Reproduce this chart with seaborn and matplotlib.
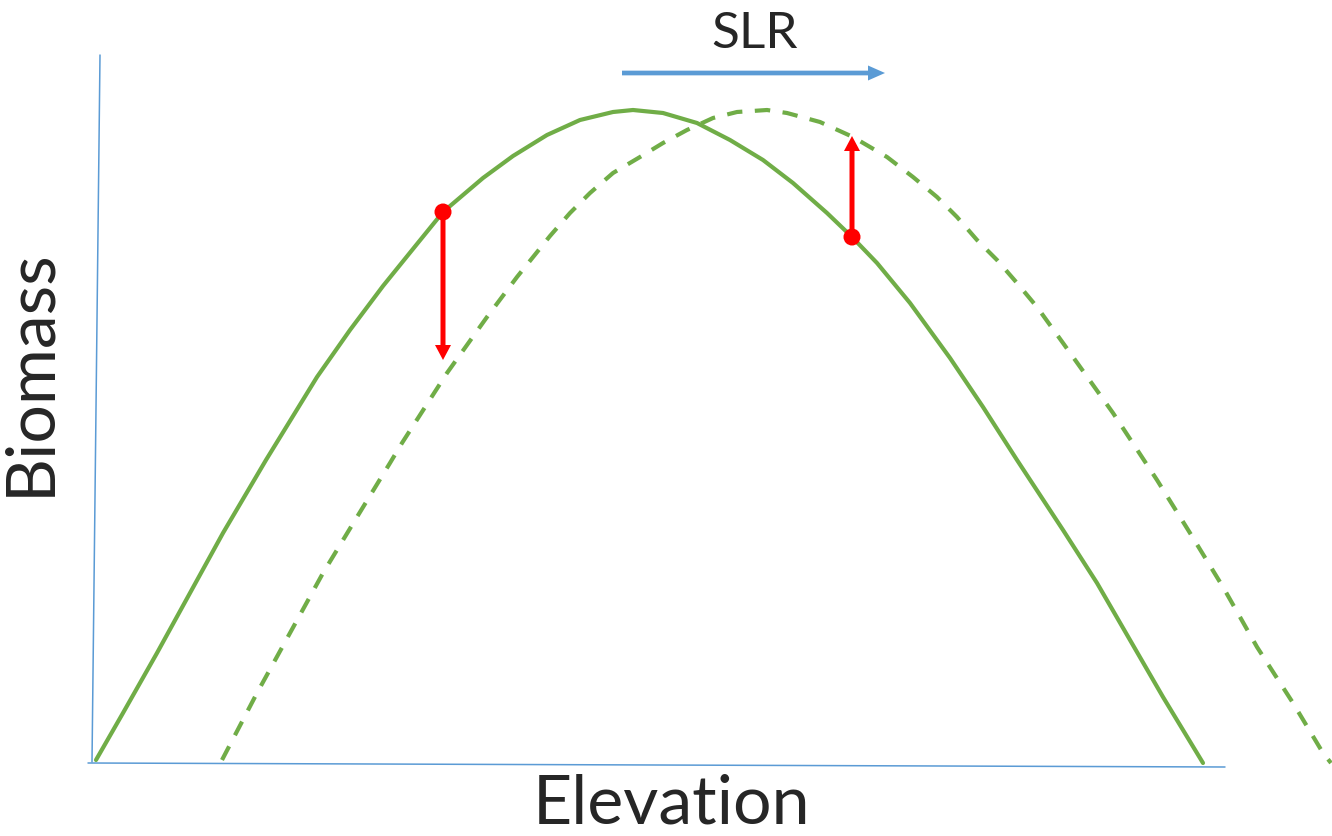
import numpy as np
import pandas as pd
import matplotlib
matplotlib.use("Agg")
import matplotlib.pyplot as plt
import seaborn as sns

# Values (elevation / biomass, arbitrary units)
current_elev = [6, 33, 67, 100, 133, 176, 227, 260, 293, 327, 353, 393, 423, 457,
                490, 523, 543, 573, 607, 640, 673, 703, 737, 762, 787, 820, 860,
                893, 927, 973, 1007, 1040, 1073, 1113]
current_bio = [3, 50, 110, 170, 230, 303, 386, 433, 477, 519, 551, 585, 607, 628,
               643, 651, 653, 650, 640, 623, 603, 580, 550, 526, 500, 460, 405,
               356, 303, 233, 180, 123, 66, 0]

future_elev = [132, 167, 200, 233, 267, 300, 312, 357, 397, 427, 460, 480, 500, 523,
               550, 573, 597, 623, 647, 677, 697, 730, 763, 797, 823, 847, 867, 887,
               907, 927, 947, 973, 1023, 1067, 1100, 1133, 1167, 1203, 1233, 1241]
future_bio = [3, 70, 130, 190, 246, 300, 320, 390, 446, 486, 527, 550, 570, 590,
              606, 620, 633, 645, 651, 653, 650, 641, 626, 606, 586, 566, 546, 523,
              503, 480, 456, 420, 350, 283, 230, 176, 116, 60, 10, 0]

# red markers: point on current curve and where it moves to
change_elev = [353, 762]
change_from = [551, 526]
change_to = [403, 627]

# sketched axes
yaxis_elev = [10, 2]
yaxis_bio = [708, 1]
xaxis_elev = [-2, 1135]
xaxis_bio = [0, -4]

# sea level rise arrow
slr_start = 532
slr_end = 795
slr_level = 690

GREEN = "#70AD47"
BLUE = "#5B9BD5"
RED = "#FF0000"

sns.set_theme(style="white")
plt.rcParams["font.family"] = ["Lato", "DejaVu Sans"]

fig = plt.figure(figsize=(13.32, 8.36), dpi=100)
ax = fig.add_axes([0, 0, 1, 1])

# axes drawn as thin blue lines
sns.lineplot(x=yaxis_elev, y=yaxis_bio, color=BLUE, linewidth=1.1, sort=False, ax=ax)
sns.lineplot(x=xaxis_elev, y=xaxis_bio, color=BLUE, linewidth=1.1, sort=False, ax=ax)

# biomass curves
cur = pd.DataFrame({"elev": current_elev, "bio": current_bio})
fut = pd.DataFrame({"elev": future_elev, "bio": future_bio})
sns.lineplot(data=cur, x="elev", y="bio", color=GREEN, linewidth=3.0, sort=False, ax=ax)
sns.lineplot(data=fut, x="elev", y="bio", color=GREEN, linewidth=3.0, sort=False,
             linestyle=(0, (3.7, 3.0)), ax=ax)

# red change arrows
for e, y0, y1 in zip(change_elev, change_from, change_to):
    ax.arrow(e, y0, 0, y1 - y0, width=5, head_width=16, head_length=15,
             length_includes_head=True, color=RED, lw=0, zorder=4)
sns.scatterplot(x=change_elev, y=change_from, color=RED, s=150, marker="o",
                edgecolor="none", zorder=5, ax=ax)

# SLR arrow
ax.arrow(slr_start, slr_level, slr_end - slr_start, 0, width=4.7, head_width=15,
         head_length=17, length_includes_head=True, color=BLUE, lw=0, zorder=4)
ax.text((slr_start + slr_end) / 2 + 1, 729, "SLR", fontsize=37, ha="center", va="center")

ax.text(582, -42, "Elevation", fontsize=49, ha="center", va="center")
ax.text(-60, 391, "Biomass", fontsize=49, ha="center", va="center", rotation=90)

ax.set_xlim(-90, 1242)
ax.set_ylim(-73, 763)
ax.set_axis_off()

plt.savefig("out.png", dpi=100)
